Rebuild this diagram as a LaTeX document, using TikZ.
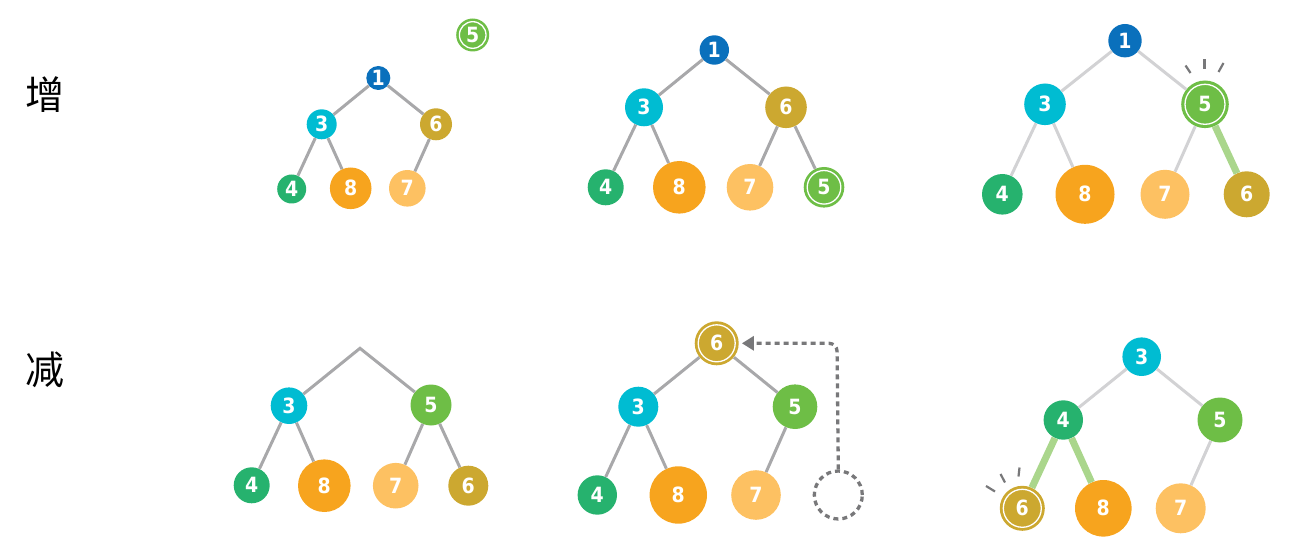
\documentclass[tikz,border=0pt]{standalone}
\usepackage{fontspec}
\newfontfamily\numfont{DejaVu Sans Condensed}
\newfontfamily\cjk{Noto Sans CJK SC}
\usetikzlibrary{arrows.meta}
\definecolor{cBlue}{RGB}{10,112,188}
\definecolor{cCyan}{RGB}{0,188,210}
\definecolor{cGold}{RGB}{204,168,48}
\definecolor{cGreen}{RGB}{38,178,110}
\definecolor{cOrange}{RGB}{247,164,30}
\definecolor{cLight}{RGB}{253,193,98}
\definecolor{cLime}{RGB}{110,190,70}
\definecolor{cEdge}{RGB}{168,168,170}
\definecolor{cEdgeL}{RGB}{210,210,212}
\definecolor{cHi}{RGB}{170,214,140}
\definecolor{cDash}{RGB}{120,120,122}
\newcommand{\hn}[6]{\node[hnode,fill=#5,minimum size=#4*2pt] (#1) at (#2,#3) {#6};}
\newcommand{\hring}[2]{\draw[white,line width=1.3pt] (#1.center) circle (#2pt);}
\begin{document}
\begin{tikzpicture}[x=1pt,y=-1pt,
  hnode/.style={circle,inner sep=0pt,text=white,font=\numfont\bfseries\fontsize{21}{21}\selectfont},
  small/.style={font=\numfont\bfseries\fontsize{16}{16}\selectfont},
  edge/.style={draw=cEdge,line width=3pt},
  edgeL/.style={draw=cEdgeL,line width=3pt},
  hi/.style={draw=cHi,line width=7pt},
  spark/.style={draw=cDash,line width=2.2pt},
  dashline/.style={draw=cDash,line width=3.3pt,dash pattern=on 5pt off 4pt},
  label/.style={font=\cjk\fontsize{39}{39}\selectfont,inner sep=0pt}]
\useasboundingbox (0,0) rectangle (1295,545);
\node[label] (lzeng) at (45,95) {增};
\node[label] (ljian) at (45,370) {减};

% ---------- top left ----------
\begin{scope}[every node/.append style={small}]
\hn{a1}{378.3}{78}{12}{cBlue}{1}
\hn{a3}{321.7}{124.3}{15}{cCyan}{3}
\hn{a6}{436}{124.3}{16}{cGold}{6}
\hn{a4}{291.7}{189}{14.5}{cGreen}{4}
\hn{a8}{350.7}{188.3}{20.8}{cOrange}{8}
\hn{a7}{407.3}{188.3}{18.3}{cLight}{7}
\hn{a5}{472.7}{35}{16.5}{cLime}{5}
\end{scope}
\hring{a5}{13.3}
\draw[edge] (a1) -- (a3); \draw[edge] (a1) -- (a6);
\draw[edge] (a3) -- (a4); \draw[edge] (a3) -- (a8);
\draw[edge] (a6) -- (a7);

% ---------- top middle ----------
\hn{b1}{714.3}{50}{14.7}{cBlue}{1}
\hn{b3}{644}{107.3}{19}{cCyan}{3}
\hn{b6}{786}{107.3}{20.8}{cGold}{6}
\hn{b4}{605.7}{187.3}{18}{cGreen}{4}
\hn{b8}{679.3}{187.3}{26.3}{cOrange}{8}
\hn{b7}{750}{187.3}{23.3}{cLight}{7}
\hn{b5}{824}{187.3}{20.3}{cLime}{5}
\hring{b5}{16.8}
\draw[edge] (b1) -- (b3); \draw[edge] (b1) -- (b6);
\draw[edge] (b3) -- (b4); \draw[edge] (b3) -- (b8);
\draw[edge] (b6) -- (b7); \draw[edge] (b6) -- (b5);

% ---------- top right ----------
\hn{c1}{1125}{40.7}{16.7}{cBlue}{1}
\hn{c3}{1045}{104.3}{20.8}{cCyan}{3}
\hn{c5}{1205}{104.3}{23.8}{cLime}{5}
\hn{c4}{1002.3}{194.3}{20.3}{cGreen}{4}
\hn{c8}{1085}{194.3}{29.5}{cOrange}{8}
\hn{c7}{1165}{194.3}{24.5}{cLight}{7}
\hn{c6}{1246.7}{194.3}{23}{cGold}{6}
\hring{c5}{20}
\draw[edgeL] (c1) -- (c3); \draw[edgeL] (c1) -- (c5);
\draw[edgeL] (c3) -- (c4); \draw[edgeL] (c3) -- (c8);
\draw[edgeL] (c5) -- (c7); \draw[hi] (c5) -- (c6);
\coordinate (cs1a) at (1185.5,65.5); \coordinate (cs1b) at (1190.5,73);
\coordinate (cs2a) at (1204.5,59.5); \coordinate (cs2b) at (1204.5,69.5);
\coordinate (cs3a) at (1223.5,63); \coordinate (cs3b) at (1218.5,72);
\draw[spark] (cs1a) -- (cs1b); \draw[spark] (cs2a) -- (cs2b); \draw[spark] (cs3a) -- (cs3b);

% ---------- bottom left ----------
\coordinate (dtop) at (360,348.3);
\hn{d3}{289}{405.7}{18.3}{cCyan}{3}
\hn{d5}{431}{405}{20.5}{cLime}{5}
\hn{d4}{251.7}{485.3}{18}{cGreen}{4}
\hn{d8}{324.3}{485.7}{26.3}{cOrange}{8}
\hn{d7}{395.7}{485.7}{22.8}{cLight}{7}
\hn{d6}{468.3}{485.7}{20}{cGold}{6}
\draw[edge,line join=miter] (d3) -- (dtop) -- (d5);
\draw[edge] (d3) -- (d4); \draw[edge] (d3) -- (d8);
\draw[edge] (d5) -- (d7); \draw[edge] (d5) -- (d6);

% ---------- bottom middle ----------
\hn{e6}{716.7}{343.3}{22}{cGold}{6}
\hn{e3}{638.3}{406.7}{20}{cCyan}{3}
\hn{e5}{795}{406.7}{22.3}{cLime}{5}
\hn{e4}{597.3}{495}{19.7}{cGreen}{4}
\hn{e8}{678.3}{495}{28.7}{cOrange}{8}
\hn{e7}{756}{495}{24.8}{cLight}{7}
\node[circle,inner sep=0pt,minimum size=48pt,dashline] (eh) at (838.3,495) {};
\hring{e6}{18.5}
\draw[edge] (e6) -- (e3); \draw[edge] (e6) -- (e5);
\draw[edge] (e3) -- (e4); \draw[edge] (e3) -- (e8);
\draw[edge] (e5) -- (e7);
\coordinate (ecorner) at (837,343.3);
\draw[dashline,rounded corners=8pt,shorten >=3pt,
  -{Triangle[length=12pt,width=14pt,fill=cDash]}] (eh.north) -- (ecorner) -- (e6.east);

% ---------- bottom right ----------
\hn{f3}{1141.7}{356.7}{19.3}{cCyan}{3}
\hn{f4}{1063.3}{420}{19.7}{cGreen}{4}
\hn{f5}{1220}{420}{22.5}{cLime}{5}
\hn{f6}{1022.3}{508.3}{22.5}{cGold}{6}
\hn{f8}{1103.3}{508.3}{28.3}{cOrange}{8}
\hn{f7}{1180.7}{508.3}{25}{cLight}{7}
\hring{f6}{19}
\draw[edgeL] (f3) -- (f4); \draw[edgeL] (f3) -- (f5);
\draw[hi] (f4) -- (f6); \draw[hi] (f4) -- (f8);
\draw[edgeL] (f5) -- (f7);
\coordinate (fs1a) at (986,486); \coordinate (fs1b) at (995,491.5);
\coordinate (fs2a) at (1000.5,474); \coordinate (fs2b) at (1005,482.5);
\coordinate (fs3a) at (1019.5,467.5); \coordinate (fs3b) at (1018.5,476.5);
\draw[spark] (fs1a) -- (fs1b); \draw[spark] (fs2a) -- (fs2b); \draw[spark] (fs3a) -- (fs3b);
\end{tikzpicture}
\end{document}
